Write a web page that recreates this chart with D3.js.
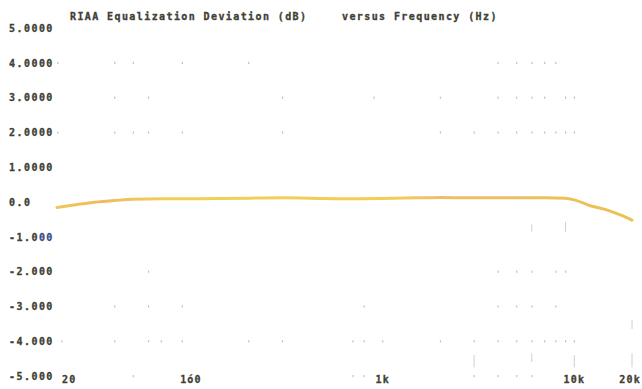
<!DOCTYPE html>
<html>
<head>
<meta charset="utf-8">
<script src="https://cdn.jsdelivr.net/npm/d3@7/dist/d3.min.js"></script>
<style>
  html, body { margin: 0; padding: 0; background: #ffffff; }
  svg text { font-family: "DejaVu Sans Mono", monospace; font-weight: bold; fill: #404034; stroke: #404034; stroke-width: 0.3; }
</style>
</head>
<body>
<svg id="chart" width="642" height="389"></svg>
<script>
// Measured RIAA deviation (dB) versus frequency (Hz)
const freqs = [20, 25, 30, 40, 50, 70, 100, 150, 200, 300, 500, 700, 1000, 1500, 2000, 3000, 5000, 7000, 9000, 10000, 12000, 15000, 17500, 20000];
const deviation = [-0.16, -0.08, -0.02, 0.04, 0.08, 0.09, 0.09, 0.10, 0.11, 0.12, 0.10, 0.09, 0.10, 0.12, 0.13, 0.12, 0.12, 0.12, 0.11, 0.06, -0.10, -0.24, -0.38, -0.52];

// Axis tick labels
const yTicks = [5, 4, 3, 2, 1, 0, -1, -2, -3, -4, -5];
const yTickLabels = ["5.0000", "4.0000", "3.0000", "2.0000", "1.0000", "0.0", "-1.000", "-2.000", "-3.000", "-4.000", "-5.000"];
const xTicks = [20, 100, 1000, 10000, 20000];
const xTickLabels = ["20", "1ó0", "1k", "10k", "20k"];

// Dotted grid: the plotted minor-grid dots on each dB row
const gridRows = [4, 3, 2, -2, -3, -4, -5];
const gridRowFreqs = [
  [40, 50, 90, 200, 4000, 5000, 6000, 7000, 8000],
  [40, 60, 300, 900, 2000, 4000, 5000, 6000, 7000, 9000, 10000],
  [40, 50, 60, 90, 300, 2000, 3000, 4000, 5000, 6000, 7000, 8000, 9000, 10000],
  [60, 4000, 5000, 6000, 8000, 9000],
  [40, 60, 90, 800, 4000, 5000, 6000, 8000],
  [40, 60, 70, 90, 200, 300, 700, 800, 1000, 2000, 3000, 4000, 5000, 6000, 7000, 8000, 9000, 10000],
  [50, 700, 800, 3000, 4000, 5000, 6000]
];
// Short vertical grid dashes [frequency, dB from, dB to]
const gridDashes = [[6000, -0.65, -0.85], [9000, -0.57, -0.85], [3000, -4.4, -4.75], [6000, -4.35, -4.6], [10000, -4.4, -4.75], [20000, -3.4, -3.65], [20000, -4.35, -4.75]];

const svg = d3.select("#chart");

const x = d3.scaleLog().domain([20, 20000]).range([57, 632]);
const y = d3.scaleLinear().domain([-5, 5]).range([376, 28]);

// Title
svg.append("text").attr("x", 70).attr("y", 20)
  .attr("font-size", 10).attr("letter-spacing", 1.4)
  .text("RIAA Equalization Deviation (dB)");
svg.append("text").attr("x", 342).attr("y", 20)
  .attr("font-size", 10).attr("letter-spacing", 1.4)
  .text("versus Frequency (Hz)");

// Y axis labels
const yl = svg.append("g");
yTicks.forEach((t, i) => {
  const txt = yl.append("text")
    .attr("x", 9).attr("y", y(t) + 3.8)
    .attr("font-size", 10).attr("letter-spacing", 1.45);
  if (t === -1) {
    txt.append("tspan").text("-1.0");
    txt.append("tspan").style("fill", "#3c4a86").style("stroke", "#3c4a86").text("00");
  } else {
    txt.text(yTickLabels[i]);
  }
});

// X axis labels
const xl = svg.append("g");
xTicks.forEach((t, i) => {
  const lab = xTickLabels[i];
  const anchor = i === 0 ? "start" : (i === xTicks.length - 1 ? "end" : "middle");
  const px = i === 0 ? x(t) + 5 : (i === xTicks.length - 1 ? 641 : x(t));
  xl.append("text")
    .attr("x", px).attr("y", y(-5) + 7)
    .attr("text-anchor", anchor)
    .attr("font-size", 10).attr("letter-spacing", 1.2)
    .text(lab);
});

// Grid dots
const dots = [];
gridRows.forEach((r, i) => gridRowFreqs[i].forEach(f => dots.push([f, r])));
svg.append("g").selectAll("rect").data(dots).join("rect")
  .attr("x", d => x(d[0]) - 0.5).attr("y", d => y(d[1]) - 1)
  .attr("width", 1.2).attr("height", 2.2)
  .attr("fill", "#8e8e88").attr("opacity", 0.55);

svg.append("g").selectAll("line").data(gridDashes).join("line")
  .attr("x1", d => x(d[0])).attr("x2", d => x(d[0]))
  .attr("y1", d => y(d[1])).attr("y2", d => y(d[2]))
  .attr("stroke", "#b8b0a0").attr("stroke-width", 1).attr("opacity", 0.6);

// Small ticks next to a few y labels
svg.append("g").selectAll("rect").data([4, 2, -4]).join("rect")
  .attr("x", d => d === -4 ? 61 : 57).attr("y", d => y(d) - 0.5)
  .attr("width", 1.5).attr("height", 1.5)
  .attr("fill", "#8e8e88").attr("opacity", 0.6);

// Deviation curve
const pts = freqs.map((f, i) => [f, deviation[i]]);
const line = d3.line().x(d => x(d[0])).y(d => y(d[1])).curve(d3.curveMonotoneX);

const grad = svg.append("defs").append("linearGradient")
  .attr("id", "curveGrad").attr("gradientUnits", "userSpaceOnUse")
  .attr("x1", 57).attr("x2", 632).attr("y1", 0).attr("y2", 0);
grad.append("stop").attr("offset", "0%").attr("stop-color", "#efc24a");
grad.append("stop").attr("offset", "8%").attr("stop-color", "#f0b450");
grad.append("stop").attr("offset", "20%").attr("stop-color", "#efcc4a");
grad.append("stop").attr("offset", "60%").attr("stop-color", "#f0c84c");
grad.append("stop").attr("offset", "66%").attr("stop-color", "#f0b858");
grad.append("stop").attr("offset", "100%").attr("stop-color", "#e8bd45");

svg.append("path").datum(pts)
  .attr("d", line)
  .attr("fill", "none")
  .attr("stroke", "url(#curveGrad)")
  .attr("stroke-width", 3)
  .attr("stroke-linecap", "round")
  .attr("opacity", 0.92);
</script>
</body>
</html>
